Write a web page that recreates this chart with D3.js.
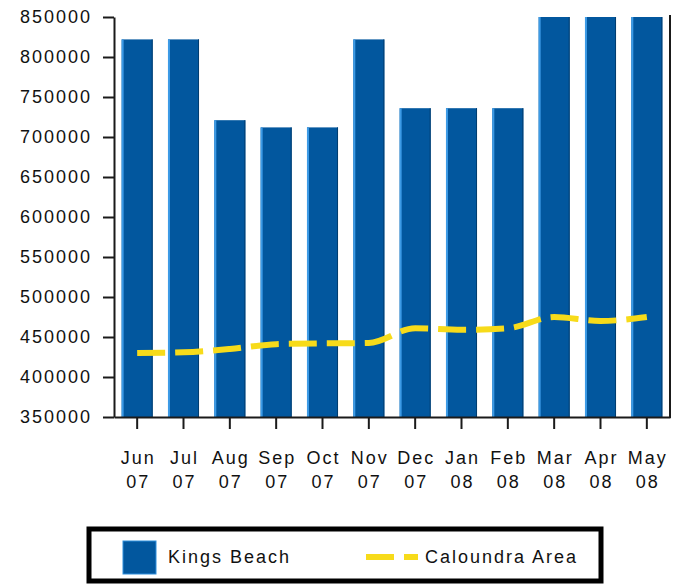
<!DOCTYPE html>
<html>
<head>
<meta charset="utf-8">
<script src="https://cdn.jsdelivr.net/npm/d3@7"></script>
<style>
	body { margin: 0; background: #ffffff; }
	text { font-family: "Liberation Sans", Arial, sans-serif; fill: #111111; }
</style>
</head>
<body>
<div id="chart"></div>
<script>
var months = ["Jun", "Jul", "Aug", "Sep", "Oct", "Nov", "Dec", "Jan", "Feb", "Mar", "Apr", "May"];
var years = ["07", "07", "07", "07", "07", "07", "07", "08", "08", "08", "08", "08"];
var kingsBeach = [822000, 822000, 721000, 712000, 712000, 822000, 736000, 736000, 736000, 850000, 850000, 850000];
var caloundra = [430000, 431000, 435000, 441000, 442000, 442500, 461000, 459000, 461000, 475000, 470000, 475000];
var yTicks = [350000, 400000, 450000, 500000, 550000, 600000, 650000, 700000, 750000, 800000, 850000];

var w = 680;
var h = 584;
var pLeft = 114, pRight = 670, pTop = 17, pBottom = 417;

var svg = d3.select("#chart").append("svg")
	.attr("width", w)
	.attr("height", h);

var x = d3.scaleBand()
	.domain(d3.range(months.length))
	.range([pLeft, pRight])
	.paddingInner(0.33)
	.paddingOuter(0.165);

var y = d3.scaleLinear()
	.domain([350000, 850000])
	.range([pBottom, pTop]);

svg.append("clipPath").attr("id", "plotclip")
	.append("rect")
	.attr("x", pLeft).attr("y", pTop - 1)
	.attr("width", pRight - pLeft).attr("height", pBottom - pTop + 1);

var plot = svg.append("g").attr("clip-path", "url(#plotclip)");

// bars
var bars = plot.selectAll("g.bar")
	.data(kingsBeach)
	.enter()
	.append("g")
	.attr("class", "bar");

bars.append("rect")
	.attr("x", function(d, i) { return x(i); })
	.attr("y", function(d) { return y(d); })
	.attr("width", x.bandwidth())
	.attr("height", function(d) { return pBottom - y(d); })
	.attr("fill", "#02579e");

bars.append("rect")
	.attr("x", function(d, i) { return x(i); })
	.attr("y", function(d) { return y(d); })
	.attr("width", 2)
	.attr("height", function(d) { return pBottom - y(d); })
	.attr("fill", "#3d9be6");

bars.append("rect")
	.attr("x", function(d, i) { return x(i) + x.bandwidth() - 1; })
	.attr("y", function(d) { return y(d); })
	.attr("width", 1)
	.attr("height", function(d) { return pBottom - y(d); })
	.attr("fill", "#013d70");

// Caloundra line
var line = d3.line()
	.x(function(d, i) { return x(i) + x.bandwidth() / 2; })
	.y(function(d) { return y(d); })
	.curve(d3.curveMonotoneX);

plot.append("path")
	.datum(caloundra)
	.attr("d", line)
	.attr("fill", "none")
	.attr("stroke", "#f7db1a")
	.attr("stroke-width", 6)
	.attr("stroke-dasharray", "28,10");

// axes
var yAxis = d3.axisLeft(y)
	.tickValues(yTicks)
	.tickSize(11)
	.tickSizeOuter(0)
	.tickPadding(11)
	.tickFormat(d3.format("d"));

var gy = svg.append("g")
	.attr("transform", "translate(" + pLeft + ",0)")
	.call(yAxis);
gy.select(".domain").attr("stroke", "#1a1a1a").attr("stroke-width", 2);
gy.selectAll(".tick line").attr("stroke", "#1a1a1a").attr("stroke-width", 2);
gy.selectAll(".tick text")
	.attr("font-size", 18)
	.attr("letter-spacing", 2)
	.attr("font-family", "Liberation Sans, Arial, sans-serif")
	.attr("fill", "#111111");

var xAxis = d3.axisBottom(x)
	.tickSize(12)
	.tickSizeOuter(0)
	.tickFormat("");

var gx = svg.append("g")
	.attr("transform", "translate(0," + pBottom + ")")
	.call(xAxis);
gx.select(".domain").attr("stroke", "#1a1a1a").attr("stroke-width", 2);
gx.selectAll(".tick line").attr("stroke", "#1a1a1a").attr("stroke-width", 2);

var labels = gx.selectAll(".tick")
	.append("text")
	.attr("text-anchor", "middle")
	.attr("font-size", 18)
	.attr("letter-spacing", 2)
	.attr("font-family", "Liberation Sans, Arial, sans-serif")
	.attr("fill", "#111111");
labels.append("tspan").attr("x", 1).attr("y", 47).text(function(d) { return months[d]; });
labels.append("tspan").attr("x", 1).attr("y", 71).text(function(d) { return years[d]; });

// right frame line
svg.append("line")
	.attr("x1", pRight).attr("x2", pRight)
	.attr("y1", pTop - 2).attr("y2", pBottom + 1)
	.attr("stroke", "#1a1a1a")
	.attr("stroke-width", 2);

// legend
var legend = svg.append("g");
legend.append("rect")
	.attr("x", 89).attr("y", 529)
	.attr("width", 512).attr("height", 52)
	.attr("fill", "#ffffff")
	.attr("stroke", "#000000")
	.attr("stroke-width", 5);

legend.append("rect")
	.attr("x", 123).attr("y", 541)
	.attr("width", 33).attr("height", 33)
	.attr("fill", "#02579e")
	.attr("stroke", "#2f8fdc")
	.attr("stroke-width", 1);

legend.append("text")
	.attr("x", 168).attr("y", 563)
	.attr("font-size", 18)
	.attr("letter-spacing", 2)
	.text("Kings Beach");

legend.append("line")
	.attr("x1", 366).attr("x2", 418)
	.attr("y1", 557).attr("y2", 557)
	.attr("stroke", "#f7db1a")
	.attr("stroke-width", 6)
	.attr("stroke-dasharray", "28,10");

legend.append("text")
	.attr("x", 425).attr("y", 563)
	.attr("font-size", 18)
	.attr("letter-spacing", 2)
	.text("Caloundra Area");
</script>
</body>
</html>
